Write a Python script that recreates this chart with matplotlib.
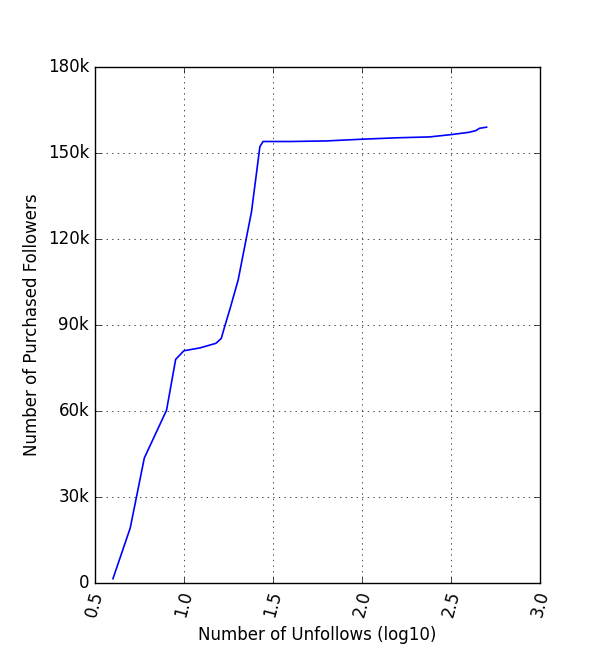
import numpy as np
import matplotlib
matplotlib.use('Agg')
import matplotlib.pyplot as plt
from matplotlib.ticker import FuncFormatter

# unfollows (log10) vs purchased followers (in thousands)
unfollows_log = [0.602, 0.699, 0.778, 0.903, 0.954, 1.0, 1.09, 1.18, 1.21, 1.23,
                 1.26, 1.305, 1.38, 1.427, 1.445, 1.6, 1.8, 2.0, 2.2, 2.38,
                 2.5, 2.6, 2.64, 2.66, 2.7]
followers_k = [1.5, 19.2, 43.6, 60.3, 78.0, 81.0, 82.0, 83.6, 85.3, 89.6,
               95.8, 105.7, 129.5, 152.2, 154.0, 154.0, 154.2, 154.8, 155.3, 155.6,
               156.4, 157.2, 157.8, 158.6, 159.0]

yticks = np.arange(0, 181, 30)

plt.style.use('classic')
fig = plt.figure(figsize=(6, 6.65), dpi=100)
ax = fig.add_axes([0.158, 0.1233, 0.742, 0.776])

ax.plot(unfollows_log, followers_k, color='b', linewidth=1.2)

ax.set_xlim(0.5, 3.0)
ax.set_ylim(0, 180)
ax.set_yticks(yticks)
ax.yaxis.set_major_formatter(FuncFormatter(lambda v, p: '0' if v == 0 else '%dk' % v))
ax.set_xticks(np.arange(0.5, 3.01, 0.5))
for lab in ax.get_xticklabels():
    lab.set_rotation(75)

ax.grid(True)
ax.set_xlabel('Number of Unfollows (log10)')
ax.set_ylabel('Number of Purchased Followers')

fig.savefig('out.png', dpi=100)
